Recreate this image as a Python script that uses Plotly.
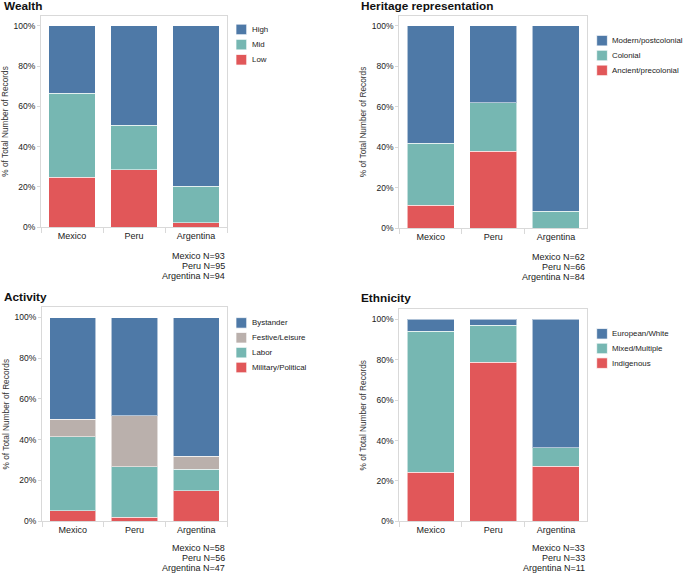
import plotly.graph_objects as go

countries = ["Mexico", "Peru", "Argentina"]

# Wealth (% of records)
wealth_low = [24.7, 28.4, 2.1]
wealth_mid = [41.9, 22.1, 18.1]
wealth_high = [33.4, 49.5, 79.8]
wealth_n = [93, 95, 94]

# Heritage representation
heritage_ancient = [11.3, 37.9, 0.0]
heritage_colonial = [30.6, 24.2, 8.3]
heritage_modern = [58.1, 37.9, 91.7]
heritage_n = [62, 66, 84]

# Activity
activity_military = [5.2, 1.8, 14.9]
activity_labor = [36.2, 25.0, 10.6]
activity_festive = [8.6, 25.0, 6.4]
activity_bystander = [50.0, 48.2, 68.1]
activity_n = [58, 56, 47]

# Ethnicity
ethnicity_indigenous = [24.2, 78.8, 27.3]
ethnicity_mixed = [69.7, 18.2, 9.1]
ethnicity_european = [6.1, 3.0, 63.6]
ethnicity_n = [33, 33, 11]

y_ticks = [0, 20, 40, 60, 80, 100]
y_tick_text = ["0%", "20%", "40%", "60%", "80%", "100%"]

BLUE = "#4E79A7"
TEAL = "#76B7B2"
RED = "#E15759"
GREY = "#BAB0AC"
FONT = "Liberation Sans, Arial, sans-serif"
W, H = 685, 579

panels = [
    dict(title="Wealth", n=wealth_n, ax="",
         series=[("Low", wealth_low, RED), ("Mid", wealth_mid, TEAL), ("High", wealth_high, BLUE)]),
    dict(title="Heritage representation", n=heritage_n, ax="2",
         series=[("Ancient/precolonial", heritage_ancient, RED), ("Colonial", heritage_colonial, TEAL),
                 ("Modern/postcolonial", heritage_modern, BLUE)]),
    dict(title="Activity", n=activity_n, ax="3",
         series=[("Military/Political", activity_military, RED), ("Labor", activity_labor, TEAL),
                 ("Festive/Leisure", activity_festive, GREY), ("Bystander", activity_bystander, BLUE)]),
    dict(title="Ethnicity", n=ethnicity_n, ax="4",
         series=[("Indigenous", ethnicity_indigenous, RED), ("Mixed/Multiple", ethnicity_mixed, TEAL),
                 ("European/White", ethnicity_european, BLUE)]),
]

# layout geometry in pixels
frames = [  # x0, x1, ytop, ybottom
    (41, 227, 16, 229),
    (399.3, 587.3, 16, 230),
    (42, 227, 310, 525.7),
    (399.3, 587.3, 311.7, 526),
]
title_pos = [(2, 6), (359, 6), (2, 300), (359.3, 301)]
legend_pos = [(236, 29.7, 15.3), (596.7, 41, 15), (236, 325.7, 15), (596.7, 336.7, 14.8)]
n_pos = [(227, 258.3), (587.3, 259.3), (227, 552.7), (587.3, 552.7)]

fig = go.Figure()
layout = dict(
    width=W, height=H, margin=dict(l=0, r=0, t=0, b=0),
    paper_bgcolor="white", plot_bgcolor="white",
    barmode="stack", bargap=0.25, showlegend=False,
    font=dict(family=FONT, size=9, color="#333333"),
)
annotations = []
shapes = []

for i, p in enumerate(panels):
    xa = "x" + p["ax"]
    ya = "y" + p["ax"]
    for name, vals, col in p["series"]:
        fig.add_trace(go.Bar(
            x=countries, y=vals, name=name, xaxis=xa, yaxis=ya,
            marker=dict(color=col, line=dict(color="rgba(255,255,255,0.55)", width=1)),
            hoverinfo="skip",
        ))
    x0, x1, yt, yb = frames[i]
    layout["xaxis" + p["ax"]] = dict(
        domain=[x0 / W, x1 / W], anchor=ya, showgrid=False, zeroline=False,
        showline=True, linecolor="#d9d9d9", linewidth=1, mirror=True,
        ticks="outside", tickson="boundaries", ticklen=5, tickcolor="#d9d9d9",
        tickfont=dict(family=FONT, size=9, color="#222222"), fixedrange=True,
    )
    layout["yaxis" + p["ax"]] = dict(
        domain=[1 - yb / H, 1 - yt / H], anchor=xa, range=[0, 105],
        showgrid=False, zeroline=False, showline=True, linecolor="#d9d9d9", linewidth=1,
        mirror=True, ticks="outside", ticklen=3, tickcolor="#d9d9d9",
        tickvals=y_ticks, ticktext=y_tick_text,
        tickfont=dict(family=FONT, size=8.5, color="#222222"),
        title=dict(text="% of Total Number of Records", standoff=3,
                   font=dict(family=FONT, size=8.3, color="#333333")),
        fixedrange=True,
    )
    # legend (top entry = last stacked series)
    lx, ly, dy = legend_pos[i]
    for k, (name, vals, col) in enumerate(reversed(p["series"])):
        cy = ly + dy * k
        shapes.append(dict(
            type="rect", xref="paper", yref="paper",
            x0=lx / W, x1=(lx + 10.7) / W, y0=1 - (cy - 5.3) / H, y1=1 - (cy + 5.3) / H,
            fillcolor=col, line=dict(color="rgba(255,255,255,0.7)", width=1),
        ))
        annotations.append(dict(
            text=name, x=(lx + 13.5) / W, y=1 - cy / H, xref="paper", yref="paper",
            xanchor="left", yanchor="middle", showarrow=False,
            font=dict(family=FONT, size=7.9, color="#222222"),
        ))
    tx, ty = title_pos[i]
    annotations.append(dict(
        text="<b>" + p["title"] + "</b>", x=tx / W, y=1 - ty / H, xref="paper", yref="paper",
        xanchor="left", yanchor="middle", showarrow=False,
        font=dict(family=FONT, size=11.8, color="#111111"),
    ))
    nx, ny = n_pos[i]
    for k, c in enumerate(countries):
        annotations.append(dict(
            text=f"{c} N={p['n'][k]}", x=nx / W, y=1 - (ny + 10 * k) / H,
            xref="paper", yref="paper", xanchor="right", yanchor="middle",
            showarrow=False, font=dict(family=FONT, size=9, color="#222222"),
        ))

layout["annotations"] = annotations
layout["shapes"] = shapes
fig.update_layout(**layout)
fig.write_html("out.html", config={"displayModeBar": False},
               post_script="document.body.style.margin='0';")
